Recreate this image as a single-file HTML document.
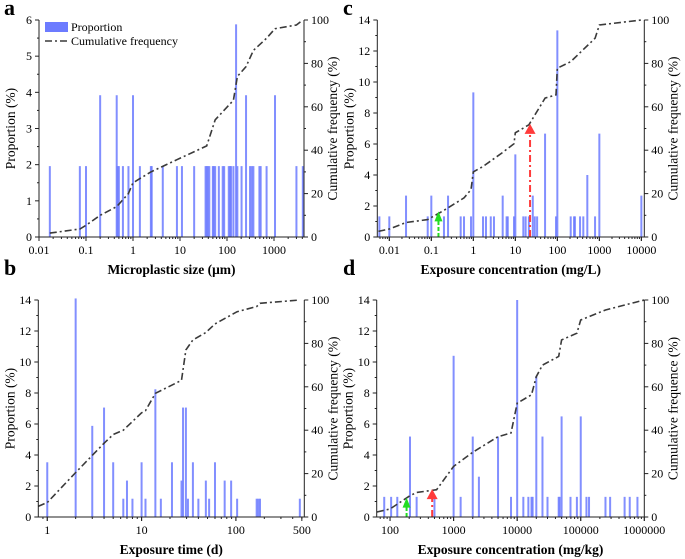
<!DOCTYPE html>
<html><head><meta charset="utf-8"><style>
html,body{margin:0;padding:0;background:#fff;}
svg{display:block;}
svg text{font-family:"Liberation Serif","Times New Roman",Times,"DejaVu Serif",serif;}
</style></head><body>
<svg id="chart" width="685" height="559" viewBox="0 0 685 559" xmlns="http://www.w3.org/2000/svg"></svg>
<script>
// ---- Panel a: microplastic size ----
const aBarX = [0.017,0.074,0.1,0.2,0.45,0.47,0.5,0.61,0.8,1,1.4,2.4,2.5,4.3,8.6,11,20,35,37,39,42,50,52,56,67,81,87,109,116,122,137,156,166,204,254,309,336,364,489,520,695,1050,3000,4100];
const aBarY = [1.96,1.96,1.96,3.92,3.92,1.96,1.96,1.96,1.96,3.92,1.96,1.96,1.96,1.96,1.96,1.96,1.96,1.96,1.96,1.96,1.96,1.96,1.96,1.96,1.96,1.96,1.96,1.96,1.96,1.96,1.96,5.88,1.96,1.96,3.92,1.96,1.96,1.96,1.96,1.96,1.96,3.92,1.96,1.96];
const aCumX = [0.017,0.074,0.1,0.2,0.45,0.8,1,2.4,8.6,37,56,137,166,254,364,695,1050,3000,4100];
const aCumY = [1.8,3.7,5.4,10,14,20,25,30,35.6,42,54,63,74,78.5,86,91.6,96,97.7,100];
const aXTicks = ["0.01","0.1","1","10","100","1000"];
// ---- Panel b: exposure time ----
const bBarX = [1,2,3,4,5,6.4,7,8,10,11,14,16,21,26.5,27.5,29.5,31,35,40,48,52,60,76,89,103,166,173,180,476];
const bBarY = [3.53,14.1,5.88,7.06,3.53,1.18,2.35,1.18,3.53,1.18,8.24,1.18,3.53,2.35,7.06,7.06,1.18,3.53,1.18,2.35,1.18,3.53,2.35,2.35,1.18,1.18,1.18,1.18,1.18];
const bCumX = [0.8,1,2,4,5,6.4,10,11,14,26.5,29.5,35,48,60,103,166,180,476];
const bCumY = [4.9,6.7,20.5,34,38,40,48,49,57,63,77,81.6,85,89,94.6,97,98.5,100];
const bXTicks = ["1","10","100","500"];
// ---- Panel c: exposure concentration mg/L ----
const cBarX = [0.0058,0.01,0.025,0.082,0.1,0.2,0.25,0.5,0.6,0.88,1,1.7,2,2.6,3.1,5,6.2,6.6,9.3,10,15.5,17.6,21,26,29,33,51,93,100,208,250,262,347,415,517,790,1000,10000];
const cBarY = [1.33,1.33,2.67,1.33,2.67,1.33,2.67,1.33,1.33,1.33,9.33,1.33,1.33,1.33,1.33,2.67,1.33,1.33,1.33,5.33,1.33,1.33,1.33,2.67,1.33,1.33,6.67,1.33,13.33,1.33,1.33,1.33,1.33,1.33,4,1.33,6.67,2.67];
const cCumX = [0.0055,0.01,0.025,0.082,0.2,0.6,0.88,1,1.7,5,9.3,10,21,51,93,100,208,790,1000,10000];
const cCumY = [2.6,3.7,6.7,8,12.3,18,21.8,30,32.5,39,43,48,51.7,64,65.5,77.8,80.8,91.6,97.7,100];
const cXTicks = ["0.01","0.1","1","10","100","1000","10000"];
const cArrowX = [0.148,22.4];
const cArrowY = [1.65,7.3];
// ---- Panel d: exposure concentration mg/kg ----
const dBarX = [81,104,130,206,262,500,1000,1290,2000,2500,5000,8000,10000,12500,15000,16800,17500,20000,25000,30000,45000,46500,50000,69000,87000,100000,123000,135000,245000,290000,490000,590000,780000];
const dBarY = [1.3,1.3,1.3,5.19,1.3,1.3,10.4,1.3,5.19,2.6,5.19,1.3,14,1.3,1.3,1.3,1.3,9.1,5.19,1.3,1.3,1.3,6.49,1.3,1.3,6.49,1.3,1.3,1.3,1.3,1.3,1.3,1.3];
const dCumX = [62,100,206,262,540,1000,2000,5000,8000,10000,16800,20000,25000,45000,50000,87000,100000,245000,1000000];
const dCumY = [2.3,3.7,9.8,11.3,12.6,23.3,29.8,37,38.7,52.5,56.3,64.7,70,74,81.6,84.7,90.8,95.4,100];
const dXTicks = ["100","1000","10000","100000","1000000"];
const dArrowX = [182,460];
const dArrowY = [1.25,1.8];

const NS="http://www.w3.org/2000/svg";
const svg=document.getElementById('chart');
function mk(tag,attrs,parent){const e=document.createElementNS(NS,tag);for(const k in attrs)e.setAttribute(k,attrs[k]);if(tag==='text')e.setAttribute('font-family','Liberation Serif, Times New Roman, serif');(parent||svg).appendChild(e);return e;}

function panel(p){
  const g=mk('g',{});
  
  
  const X=v=>p.L+(Math.log10(v)-p.lmin)/(p.lmax-p.lmin)*(p.R-p.L);
  const Y=v=>p.B-v/p.ymax*(p.B-p.T);
  const Yr=v=>p.B-v/100*(p.B-p.T);
  const bg=mk('g',{},g);
  
  
  p.bx.forEach((v,i)=>{
    const r=mk('rect',{x:X(v)-1,y:Y(p.by[i]),width:2,height:p.B-Y(p.by[i]),fill:'#6c7bff','fill-opacity':0.85},bg);
    
    
  });
  const pts=p.cx.map((v,i)=>X(v).toFixed(1)+','+Yr(p.cy[i]).toFixed(1)).join(' ');
  const pl=mk('polyline',{points:pts,fill:'none',stroke:'#3a3a3a','stroke-width':1.6,'stroke-dasharray':'7 3 2 3'},g);
  
  
  if(p.ax){
    const cols=['#22dd22','#ff3b3b'];
    p.ax.forEach((v,i)=>{
      const x=X(v),yt=Y(p.ay[i]);
      const ln=mk('line',{x1:x,y1:p.B,x2:x,y2:yt+9,stroke:cols[i],'stroke-width':2,'stroke-dasharray':i==0?'4 2':'7 3 2 3'},g);
      
      
      const hw=i==0?4:5.5;
      const hd=mk('polygon',{points:`${x-hw},${yt+10} ${x+hw},${yt+10} ${x},${yt}`,fill:cols[i]},g);
      
      
    });
  }
  const ax=mk('path',{d:`M${p.L},${p.T}V${p.B}H${p.R}V${p.T}`,fill:'none',stroke:'#222','stroke-width':1},g);
  
  
  for(let v=0;v<=p.ymax;v+=p.ystep){
    const y=Y(v);
    mk('line',{x1:p.L-4,y1:y,x2:p.L,y2:y,stroke:'#222'},g);
    const t=mk('text',{x:p.L-7,y:y+4,'text-anchor':'end','font-size':12},g);
    t.textContent=v;
    
    
    if(v<p.ymax) mk('line',{x1:p.L-2,y1:Y(v+p.ystep/2),x2:p.L,y2:Y(v+p.ystep/2),stroke:'#222'},g);
  }
  for(let v=0;v<=100;v+=20){
    const y=Yr(v);
    mk('line',{x1:p.R,y1:y,x2:p.R+4,y2:y,stroke:'#222'},g);
    const t=mk('text',{x:p.R+7,y:y+4,'font-size':12},g);
    t.textContent=v;
    
    
    if(v<100) mk('line',{x1:p.R,y1:Yr(v+10),x2:p.R+2,y2:Yr(v+10),stroke:'#222'},g);
  }
  for(let d=Math.floor(p.lmin);d<=Math.ceil(p.lmax);d++){
    for(let m=1;m<10;m++){
      const lv=d+Math.log10(m);
      if(lv<p.lmin-1e-6||lv>p.lmax+1e-6)continue;
      const x=X(Math.pow(10,lv));
      mk('line',{x1:x,y1:p.B,x2:x,y2:p.B+(m==1?4:2),stroke:'#222'},g);
    }
  }
  p.xt.forEach(s=>{
    const x=X(parseFloat(s));
    mk('line',{x1:x,y1:p.B,x2:x,y2:p.B+4,stroke:'#222'},g);
    const t=mk('text',{x:x,y:p.B+17,'text-anchor':'middle','font-size':12},g);
    t.textContent=s;
    
    
  });
  const xt=mk('text',{x:(p.L+p.R)/2,y:p.B+37,'text-anchor':'middle','font-size':13.5,'font-weight':'bold'},g);
  xt.textContent=p.xtitle;
  
  
  const yt=mk('text',{transform:`translate(${p.L-24},${(p.T+p.B)/2}) rotate(-90)`,'text-anchor':'middle','font-size':13.5},g);
  yt.textContent='Proportion (%)';
  
  
  const rt=mk('text',{transform:`translate(${p.R+33},${(p.T+p.B)/2}) rotate(-90)`,'text-anchor':'middle','font-size':13.5},g);
  rt.textContent=p.rtitle;
  
  
  const lab=mk('text',{x:p.lx,y:p.ly,'font-size':22,'font-weight':'bold'},g);
  lab.textContent=p.letter;
  
  
}

panel({name:'panel-a',L:39,R:304,T:20,B:237,lmin:-2,lmax:3.638,ymax:6,ystep:1,bx:aBarX,by:aBarY,cx:aCumX,cy:aCumY,xt:aXTicks,xtitle:'Microplastic size (μm)',rtitle:'Cumulative frequency (%)',letter:'a',lx:4,ly:15});
panel({name:'panel-b',L:38.3,R:304.3,T:300,B:517,lmin:-0.095,lmax:2.725,ymax:14,ystep:2,bx:bBarX,by:bBarY,cx:bCumX,cy:bCumY,xt:bXTicks,xtitle:'Exposure time (d)',rtitle:'Cumulative frequency (%)',letter:'b',lx:4,ly:275});
panel({name:'panel-c',L:377.3,R:644.3,T:20,B:237,lmin:-2.286,lmax:4.07,ymax:14,ystep:2,bx:cBarX,by:cBarY,cx:cCumX,cy:cCumY,xt:cXTicks,xtitle:'Exposure concentration (mg/L)',rtitle:'Cumulative frequency (%)',letter:'c',lx:343,ly:15,ax:cArrowX,ay:cArrowY});
panel({name:'panel-d',L:376.7,R:644.3,T:300,B:517,lmin:1.79,lmax:6.0,ymax:14,ystep:2,bx:dBarX,by:dBarY,cx:dCumX,cy:dCumY,xt:dXTicks,xtitle:'Exposure concentration (mg/kg)',rtitle:'Cumulative frequence (%)',letter:'d',lx:343,ly:275,ax:dArrowX,ay:dArrowY});

const lg=mk('g',{});


const lr=mk('rect',{x:45,y:22,width:23,height:10,fill:'#6c7bff'},lg);


const lt1=mk('text',{x:71,y:31,'font-size':12},lg);lt1.textContent='Proportion';


const ll=mk('line',{x1:45,y1:41,x2:68,y2:41,stroke:'#3a3a3a','stroke-width':1.6,'stroke-dasharray':'7 3 2 3'},lg);


const lt2=mk('text',{x:71,y:45,'font-size':12},lg);lt2.textContent='Cumulative frequency';


</script>
</body></html>
